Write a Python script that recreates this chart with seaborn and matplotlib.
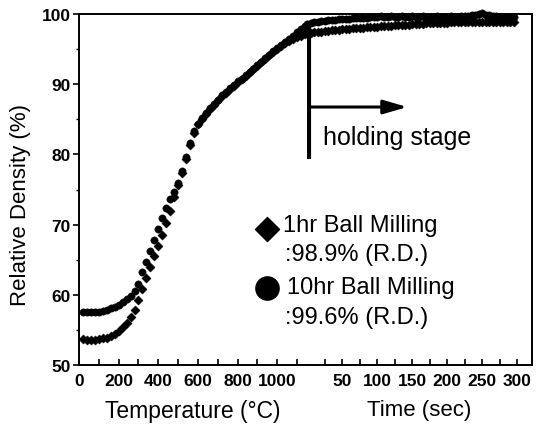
import matplotlib
matplotlib.use("Agg")
import matplotlib.pyplot as plt
import seaborn as sns
import numpy as np
import pandas as pd

# ---------------- data ----------------
# heating stage (temperature, deg C)
temp_c = [20, 40, 60, 80, 100, 120, 140, 160, 180, 200, 220, 240, 260, 280, 300,
          320, 340, 360, 380, 400, 420, 440, 460, 480, 500, 520, 540, 560, 580, 600,
          620, 640, 660, 680, 700, 720, 740, 760, 780, 800, 820, 840, 860, 880, 900,
          920, 940, 960, 980, 1000, 1020, 1040, 1060, 1080, 1100, 1120, 1140]
rd_10hr_heat = [57.5, 57.5, 57.5, 57.5, 57.6, 57.7, 57.9, 58.1, 58.3, 58.6, 59.0, 59.4, 59.9, 60.6, 61.6,
                63.2, 64.7, 66.2, 67.8, 69.4, 70.9, 72.3, 73.6, 74.7, 75.9, 77.6, 79.6, 81.6, 83.3, 84.4,
                85.2, 85.9, 86.6, 87.2, 87.8, 88.4, 88.9, 89.4, 89.9, 90.4, 90.8, 91.3, 91.8, 92.2, 92.7,
                93.2, 93.7, 94.2, 94.7, 95.1, 95.6, 96.0, 96.4, 96.9, 97.4, 97.9, 98.3]
rd_1hr_heat = [53.7, 53.6, 53.6, 53.6, 53.7, 53.8, 53.9, 54.1, 54.4, 54.8, 55.4, 56.0, 56.8, 57.8, 59.2,
               60.8, 62.4, 64.0, 65.5, 67.0, 68.5, 70.2, 72.0, 73.9, 75.6, 77.4, 79.4, 81.4, 83.1, 84.3,
               85.1, 85.8, 86.5, 87.1, 87.7, 88.3, 88.8, 89.3, 89.8, 90.3, 90.7, 91.2, 91.7, 92.1, 92.6,
               93.1, 93.6, 94.1, 94.6, 95.0, 95.4, 95.8, 96.1, 96.4, 96.7, 96.9, 97.1]

# holding stage (time, sec)
time_s = [0, 5, 10, 15, 20, 25, 30, 35, 40, 45, 50, 55, 60, 65, 70, 75, 80, 85, 90, 95,
          100, 105, 110, 115, 120, 125, 130, 135, 140, 145, 150, 155, 160, 165, 170, 175, 180, 185, 190, 195,
          200, 205, 210, 215, 220, 225, 230, 235, 240, 245, 250, 255, 260, 265, 270, 275, 280, 285, 290, 295]
rd_10hr_hold = [98.6, 98.7, 98.8, 98.9, 99.0, 99.05, 99.1, 99.15, 99.2, 99.25, 99.3, 99.3, 99.35, 99.4, 99.4,
                99.45, 99.5, 99.5, 99.55, 99.6, 99.6, 99.65, 99.6, 99.6, 99.65, 99.6, 99.6, 99.65, 99.6, 99.6,
                99.65, 99.6, 99.6, 99.65, 99.6, 99.6, 99.6, 99.65, 99.6, 99.6, 99.6, 99.65, 99.6, 99.6, 99.65,
                99.7, 99.7, 99.8, 99.9, 100.0, 100.1, 99.9, 99.8, 99.7, 99.65, 99.6, 99.6, 99.6, 99.6, 99.6]
rd_1hr_hold = [97.3, 97.35, 97.4, 97.45, 97.5, 97.55, 97.6, 97.65, 97.7, 97.75, 97.8, 97.85, 97.9, 97.95, 98.0,
               98.0, 98.05, 98.1, 98.15, 98.2, 98.2, 98.25, 98.3, 98.3, 98.35, 98.4, 98.4, 98.45, 98.5, 98.5,
               98.55, 98.55, 98.6, 98.6, 98.65, 98.65, 98.7, 98.7, 98.7, 98.75, 98.75, 98.8, 98.8, 98.8, 98.85,
               98.85, 98.85, 98.9, 98.9, 98.9, 98.9, 98.9, 98.9, 98.9, 98.9, 98.9, 98.9, 98.9, 98.9, 98.9]

temp_ticks = [0, 200, 400, 600, 800, 1000]
time_ticks = [50, 100, 150, 200, 250, 300]
y_ticks = [50, 60, 70, 80, 90, 100]

legend_lines = ["1hr Ball Milling", ":98.9% (R.D.)", "10hr Ball Milling", ":99.6% (R.D.)"]

# ---------------- figure ----------------
sns.set_theme(style="white")
plt.rcParams['font.family'] = ['Liberation Sans', 'DejaVu Sans']

W, H = 539, 431
fig = plt.figure(figsize=(W / 100, H / 100), dpi=100)
fig.patch.set_facecolor('white')

x0, x_split, x1 = 79, 307, 532
y_top, y_bot = 15, 366
axL = fig.add_axes([x0 / W, 1 - y_bot / H, (x_split - x0) / W, (y_bot - y_top) / H])
axR = fig.add_axes([x_split / W, 1 - y_bot / H, (x1 - x_split) / W, (y_bot - y_top) / H])
for ax in (axL, axR):
    ax.patch.set_alpha(0)

heat = pd.DataFrame({"T": temp_c * 2,
                     "RD": rd_1hr_heat + rd_10hr_heat,
                     "series": ["1hr"] * len(temp_c) + ["10hr"] * len(temp_c)})
hold = pd.DataFrame({"t": time_s * 2,
                     "RD": rd_1hr_hold + rd_10hr_hold,
                     "series": ["1hr"] * len(time_s) + ["10hr"] * len(time_s)})

markers = {"1hr": "D", "10hr": "o"}
sizes = {"1hr": 22, "10hr": 28}
for name in ["1hr", "10hr"]:
    sns.scatterplot(data=heat[heat.series == name], x="T", y="RD", marker=markers[name],
                    color="black", edgecolor="black", linewidth=0.3, s=sizes[name],
                    ax=axL, legend=False, zorder=3, clip_on=False)
    sns.scatterplot(data=hold[hold.series == name], x="t", y="RD", marker=markers[name],
                    color="black", edgecolor="black", linewidth=0.3, s=sizes[name],
                    ax=axR, legend=False, zorder=3, clip_on=False)

axL.set_xlim(0, 1150)
axR.set_xlim(0, 321)
for ax in (axL, axR):
    ax.set_ylim(50, 100)
    for s in ax.spines.values():
        s.set_color("black")
        s.set_linewidth(1.4)

axL.spines['right'].set_visible(False)
axR.spines['left'].set_visible(False)

tick_font = dict(fontsize=12.5, fontweight='bold')
axL.set_xticks(temp_ticks)
axL.set_xticklabels([str(v) for v in temp_ticks], **tick_font)
axL.set_xticks(list(range(100, 1150, 200)), minor=True)
axR.set_xticks(time_ticks)
axR.set_xticklabels([str(v) for v in time_ticks], **tick_font)
axR.set_xticks([25, 75, 125, 175, 225, 275], minor=True)
axL.set_yticks(y_ticks)
axL.set_yticklabels([str(v) for v in y_ticks], **tick_font)
axL.set_yticks([55, 65, 75, 85, 95], minor=True)
axR.set_yticks([])

for ax in (axL, axR):
    ax.tick_params(axis='x', which='both', direction='in', length=4, width=1.2,
                   color='black', pad=6, bottom=True, labelcolor='black')
axL.tick_params(axis='y', which='major', direction='out', length=4, width=1.2,
                color='black', pad=2, left=True, labelcolor='black')
axL.tick_params(axis='y', which='minor', direction='out', length=2.5, width=1.0,
                color='black', left=True)

axL.set_xlabel("Temperature (\u00b0C)", fontsize=16.5, color='black', labelpad=8)
axR.set_xlabel("Time (sec)", fontsize=16, color='black', labelpad=8)
axL.set_ylabel("Relative Density (%)", fontsize=16, color='black')
axR.set_ylabel("")
axL.yaxis.set_label_coords(-0.21, 0.46)

# holding stage marker
axR.plot([3, 3], [79.3, 98.3], color='black', lw=3, solid_capstyle='butt', zorder=4)
axR.annotate("", xy=(143, 86.75), xytext=(3, 86.75),
             arrowprops=dict(arrowstyle="-|>,head_length=1.2,head_width=0.35",
                             color='black', lw=2.2, shrinkA=0, shrinkB=0))
axR.text(23, 82.5, "holding stage", fontsize=18, color='black', va='center', ha='left')

# legend drawn as text
axL.scatter([947], [69.4], marker='D', s=150, color='black', clip_on=False, zorder=5)
axL.scatter([947], [61.0], marker='o', s=280, color='black', clip_on=False, zorder=5)
ys = [69.9, 65.8, 61.1, 56.8]
xs = [1030, 1040, 1050, 1040]
for lbl, xx, yy in zip(legend_lines, xs, ys):
    axL.text(xx, yy, lbl, fontsize=17, color='black', va='center', ha='left', clip_on=False)

fig.savefig("out.png", dpi=100, facecolor='white')
